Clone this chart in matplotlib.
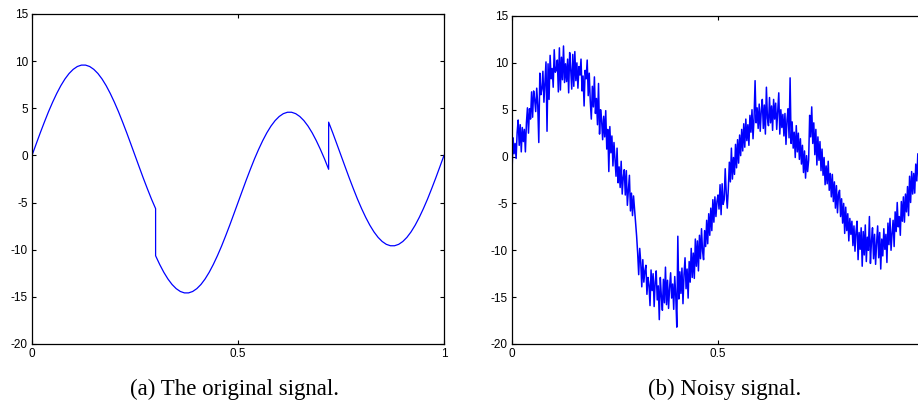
import numpy as np
import matplotlib.pyplot as plt

plt.rcParams['axes.unicode_minus'] = False

# original signal, sampled every 0.01 (jumps at t=0.30 and t=0.72 are repeated samples)
orig_t = [k / 100 for k in range(0, 31)] + [k / 100 for k in range(30, 73)] + [k / 100 for k in range(72, 101)]
orig_y = [0, 1.20, 2.39, 3.53, 4.63, 5.64, 6.57, 7.40, 8.11, 8.69,
          9.13, 9.43, 9.58, 9.58, 9.43, 9.13, 8.69, 8.11, 7.40, 6.57,
          5.64, 4.63, 3.53, 2.39, 1.20, 0, -1.20, -2.39, -3.53, -4.63,
          -5.64,
          -10.64, -11.57, -12.40, -13.11, -13.69, -14.13, -14.43, -14.58, -14.58, -14.43,
          -14.13, -13.69, -13.11, -12.40, -11.57, -10.64, -9.63, -8.53, -7.39, -6.20,
          -5.00, -3.80, -2.61, -1.47, -0.37, 0.64, 1.57, 2.40, 3.11, 3.69,
          4.13, 4.43, 4.58, 4.58, 4.43, 4.13, 3.69, 3.11, 2.40, 1.57,
          0.64, -0.37, -1.47,
          3.53, 2.39, 1.20, 0, -1.20, -2.39, -3.53, -4.63, -5.64, -6.57,
          -7.40, -8.11, -8.69, -9.13, -9.43, -9.58, -9.58, -9.43, -9.13, -8.69,
          -8.11, -7.40, -6.57, -5.64, -4.63, -3.53, -2.39, -1.20, 0]

noisy_y = [-1.7, 2.0, 0.3, 1.4, -0.2, 2.6, 3.9, 1.2, 3.4, 0.5,
           3.1, 1.6, 2.9, 0.5, 3.6, 5.2, 2.5, 5.1, 4.0, 6.9,
           4.2, 7.0, 6.1, 4.8, 7.3, 5.5, 1.5, 8.9, 6.6, 7.2,
           9.1, 5.8, 8.0, 10.1, 2.7, 9.9, 6.1, 10.8, 8.3, 9.4,
           7.4, 11.4, 9.0, 9.2, 10.3, 6.9, 11.6, 7.1, 10.6, 8.2,
           11.8, 7.9, 9.9, 8.0, 10.4, 6.8, 11.1, 9.3, 7.2, 10.9,
           7.5, 11.2, 8.1, 10.0, 7.3, 9.6, 8.7, 10.4, 7.0, 8.6,
           5.4, 9.2, 8.3, 10.3, 6.5, 8.9, 5.9, 4.0, 7.5, 5.3,
           8.5, 4.6, 6.2, 3.4, 7.8, 2.4, 5.0, 3.9, 1.8, 4.3,
           2.1, 4.9, 0.8, 2.9, -1.6, 3.2, 0.4, 2.2, -1.0, 1.5,
           -0.4, -2.1, 0.9, -2.8, -1.1, -3.3, -0.5, -4.0, -2.2, -1.4,
           -4.1, -1.5, -5.2, -3.6, -2.0, -5.8, -3.9, -6.3, -4.2, -5.6,
           -6.9, -8.5, -10.3, -12.6, -9.8, -11.3, -13.9, -11.0, -13.4, -12.2,
           -11.6, -14.7, -12.9, -13.7, -15.9, -12.1, -14.3, -12.5, -16.0, -13.4,
           -12.2, -15.3, -13.8, -17.4, -12.9, -14.9, -16.4, -13.1, -15.6, -11.8,
           -15.8, -13.2, -16.2, -14.0, -12.4, -15.1, -13.6, -16.3, -12.8, -14.9,
           -18.2, -8.5, -15.2, -12.3, -14.6, -11.9, -15.7, -12.6, -10.8, -14.1,
           -12.0, -15.1, -11.2, -13.4, -9.8, -12.9, -10.3, -13.0, -8.8, -11.7,
           -9.0, -12.2, -8.4, -10.9, -7.7, -10.1, -11.0, -7.9, -9.6, -6.8,
           -9.3, -6.1, -8.4, -5.5, -7.9, -4.6, -7.0, -4.3, -6.4, -4.8,
           -4.1, -5.6, -3.0, -6.2, -2.9, -5.1, -4.6, -1.3, -3.9, -5.5,
           -3.5, -0.6, -2.7, 0.9, -2.4, -0.1, -1.9, 1.3, -1.2, 1.8,
           -0.7, 2.3, 0.1, 2.9, 0.6, 3.5, 1.0, 4.0, 1.7, 3.4,
           1.2, 4.4, 2.6, 5.0, 1.9, 4.1, 8.1, 3.6, 5.2, 3.0,
           5.6, 2.7, 4.9, 6.1, 3.0, 5.5, 2.4, 7.4, 4.1, 3.3,
           6.3, 3.6, 5.4, 2.8, 6.1, 4.0, 5.7, 2.9, 4.8, 6.8,
           2.4, 5.0, 3.1, 4.5, 2.2, 4.6, 1.3, 3.9, 5.1, 2.0,
           8.4, 1.4, 3.7, 0.9, 2.6, -0.1, 3.3, 0.5, 2.5, -0.3,
           1.9, -0.8, 1.2, -1.7, 0.6, -2.3, 0.1, -1.6, -0.4, 4.4,
           2.1, 5.3, 1.4, 3.6, 0.2, 2.9, -0.9, 2.1, -0.4, 1.6,
           -1.5, 0.8, -2.0, -0.1, -3.0, -1.0, -2.9, -0.5, -3.6, -1.8,
           -4.3, -1.9, -4.8, -2.7, -5.5, -3.1, -6.0, -4.0, -3.6, -6.4,
           -4.5, -7.1, -5.0, -8.2, -5.4, -7.9, -6.1, -9.0, -6.6, -8.3,
           -6.9, -9.5, -7.4, -10.1, -8.0, -6.9, -11.0, -8.1, -9.9, -7.6,
           -11.7, -8.0, -10.5, -7.3, -11.2, -8.6, -10.0, -6.4, -11.4, -9.0,
           -7.6, -10.9, -8.3, -11.5, -9.2, -7.4, -10.8, -8.1, -12.0, -8.8,
           -10.6, -7.7, -9.9, -8.3, -11.3, -7.1, -9.4, -6.6, -10.0, -8.2,
           -6.8, -9.6, -5.9, -8.0, -4.9, -7.5, -6.4, -8.4, -4.8, -6.9,
           -4.3, -7.0, -4.0, -5.9, -3.2, -6.3, -2.1, -4.9, -1.6, -4.0,
           -1.8, -3.9, -0.8, -2.6, 0.3, -2.5, -0.1, 0.4, -1.9, -0.6,
           0.2]
noisy_t = np.linspace(0, 1, len(noisy_y))

yticks = [-20, -15, -10, -5, 0, 5, 10, 15]
xticks = [0, 0.5, 1]
xticklabels = ['0', '0.5', '1']
captions = ['(a) The original signal.', '(b) Noisy signal.']

fig = plt.figure(figsize=(9.18, 4.05), dpi=100)
ax1 = fig.add_axes([32 / 918, 61 / 405, 412 / 918, 330 / 405])
ax2 = fig.add_axes([512 / 918, 61 / 405, 412 / 918, 328 / 405])

ax1.plot(orig_t, orig_y, color='#0000ff', lw=0.9)
ax2.plot(noisy_t, noisy_y, color='#0000ff', lw=1.1)

for ax in (ax1, ax2):
    ax.set_xlim(0, 1)
    ax.set_ylim(-20, 15)
    ax.set_xticks(xticks)
    ax.set_yticks(yticks)
    ax.tick_params(direction='in', top=True, right=True, length=3, width=0.8,
                   pad=3, labelsize=8.5)
    for sp in ax.spines.values():
        sp.set_linewidth(0.9)

ax1.set_xticklabels(xticklabels)
# the right panel runs past the page edge, its "1" is cut off there
ax2.set_xticklabels(xticklabels[:2] + [''])
for ax in (ax1, ax2):
    for lab in ax.get_xticklabels() + ax.get_yticklabels():
        lab.set_family('Liberation Sans')

fig.text(235 / 918, 10 / 405, captions[0], ha='center', va='baseline',
         family='Liberation Serif', fontsize=16.5)
fig.text(725 / 918, 10 / 405, captions[1], ha='center', va='baseline',
         family='Liberation Serif', fontsize=16.5)

plt.savefig('out.png', dpi=100)
